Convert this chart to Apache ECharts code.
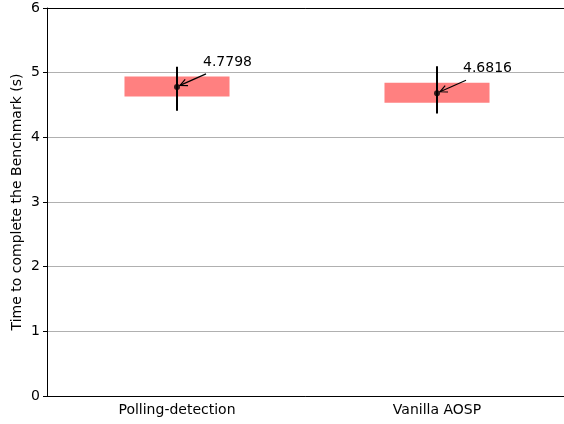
<!DOCTYPE html>
<html>
<head>
<meta charset="utf-8">
<script src="https://cdn.jsdelivr.net/npm/echarts@6/dist/echarts.min.js"></script>
<style>html,body{margin:0;padding:0;background:#fff;}#c{width:564px;height:424px;}</style>
</head>
<body>
<div id="c"></div>
<script>
const categories = ['Polling-detection', 'Vanilla AOSP'];
const means = [4.7798, 4.6816];
const boxLow = [4.63, 4.535];
const boxHigh = [4.94, 4.845];
const errLow = [4.41, 4.37];
const errHigh = [5.09, 5.10];
const meanLabels = ['4.7798', '4.6816'];

const FONT = 'DejaVu Sans';
const chart = echarts.init(document.getElementById('c'), null, {renderer: 'canvas'});

const boxData = categories.map((c, i) => [i, boxLow[i], boxHigh[i]]);
const errData = categories.map((c, i) => [i, errLow[i], errHigh[i]]);
const meanData = categories.map((c, i) => [i, means[i]]);
const annData = categories.map((c, i) => [i, means[i], meanLabels[i]]);

chart.setOption({
  animation: false,
  grid: {left: 47, top: 8, width: 520, height: 388, containLabel: false, outerBoundsMode: 'none'},
  xAxis: [{
    type: 'category',
    data: categories,
    boundaryGap: true,
    axisLine: {lineStyle: {color: '#000', width: 1}},
    axisTick: {alignWithLabel: true, length: 4, lineStyle: {color: '#000'}},
    axisLabel: {color: '#000', fontFamily: FONT, fontSize: 14, margin: 7},
    splitLine: {show: false}
  }, {
    type: 'category',
    position: 'top',
    data: categories,
    axisLine: {show: true, lineStyle: {color: '#000', width: 1}},
    axisTick: {show: false},
    axisLabel: {show: false},
    splitLine: {show: false}
  }],
  yAxis: {
    type: 'value',
    min: 0, max: 6, interval: 1,
    name: 'Time to complete the Benchmark (s)',
    nameLocation: 'middle',
    nameGap: 23,
    nameMoveOverlap: false,
    nameTextStyle: {color: '#000', fontFamily: FONT, fontSize: 14},
    axisLine: {show: true, lineStyle: {color: '#000', width: 1}},
    axisTick: {show: true, length: 4, lineStyle: {color: '#000'}},
    axisLabel: {color: '#000', fontFamily: FONT, fontSize: 14, margin: 7},
    splitLine: {show: true, lineStyle: {color: '#b0b0b0', width: 1}}
  },
  series: [{
    type: 'custom',
    data: boxData,
    renderItem: function (params, api) {
      const c = api.value(0);
      const lo = api.coord([c, api.value(1)]);
      const hi = api.coord([c, api.value(2)]);
      const w = api.size([1, 0])[0] * 0.404;
      return {type: 'rect', shape: {x: lo[0] - w / 2, y: hi[1], width: w, height: lo[1] - hi[1]}, style: {fill: '#ff8080'}};
    },
    z: 2
  }, {
    type: 'custom',
    data: errData,
    renderItem: function (params, api) {
      const c = api.value(0);
      const lo = api.coord([c, api.value(1)]);
      const hi = api.coord([c, api.value(2)]);
      return {type: 'line', shape: {x1: lo[0], y1: lo[1], x2: hi[0], y2: hi[1]}, style: {stroke: '#000', lineWidth: 2}};
    },
    z: 3
  }, {
    type: 'scatter',
    data: meanData,
    symbol: 'circle',
    symbolSize: 6,
    itemStyle: {color: '#000'},
    z: 4
  }, {
    type: 'custom',
    data: annData,
    renderItem: function (params, api) {
      const c = api.value(0);
      const p = api.coord([c, api.value(1)]);
      const hx = p[0] + 3, hy = p[1] - 1.5;
      const tx = p[0] + 29, ty = p[1] - 13;
      const ang = Math.atan2(ty - hy, tx - hx);
      const L = 8, a = 0.45;
      const h1 = [hx + L * Math.cos(ang + a), hy + L * Math.sin(ang + a)];
      const h2 = [hx + L * Math.cos(ang - a), hy + L * Math.sin(ang - a)];
      return {
        type: 'group',
        children: [{
          type: 'line', shape: {x1: tx, y1: ty, x2: hx, y2: hy}, style: {stroke: '#000', lineWidth: 1.2}
        }, {
          type: 'polyline', shape: {points: [h1, [hx, hy], h2]}, style: {stroke: '#000', lineWidth: 1.2, fill: null}
        }, {
          type: 'text',
          style: {text: annData[params.dataIndex][2], x: p[0] + 26, y: p[1] - 25, fill: '#000', font: '14px "DejaVu Sans"', textAlign: 'left', textVerticalAlign: 'middle'}
        }]
      };
    },
    z: 5
  }]
});
</script>
</body>
</html>
